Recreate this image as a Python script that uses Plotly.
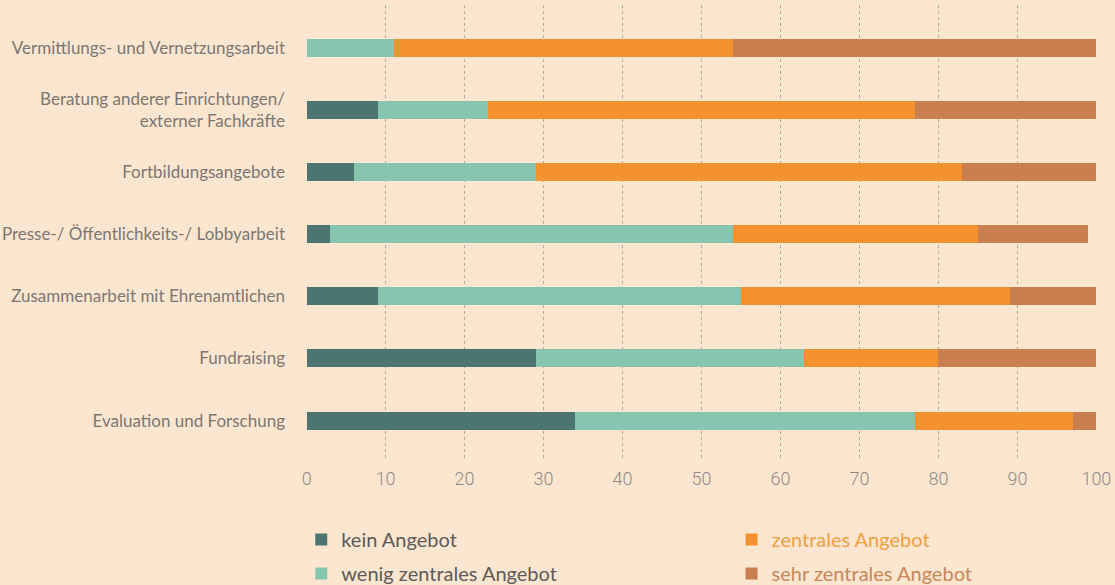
import plotly.graph_objects as go

# Angebote der Einrichtungen (Anteile in %)
categories = [
    "Vermittlungs- und Vernetzungsarbeit",
    "Beratung anderer Einrichtungen/<br>externer Fachkräfte",
    "Fortbildungsangebote",
    "Presse-/ Öffentlichkeits-/ Lobbyarbeit",
    "Zusammenarbeit mit Ehrenamtlichen",
    "Fundraising",
    "Evaluation und Forschung",
]
kein_angebot = [0, 9, 6, 3, 9, 29, 34]
wenig_zentral = [11, 14, 23, 51, 46, 34, 43]
zentral = [43, 54, 54, 31, 34, 17, 20]
sehr_zentral = [46, 23, 17, 14, 11, 20, 3]

series_names = ["kein Angebot", "wenig zentrales Angebot", "zentrales Angebot", "sehr zentrales Angebot"]
x_ticks = [0, 10, 20, 30, 40, 50, 60, 70, 80, 90, 100]

bar_colors = ["#4C7572", "#86C5AF", "#F3922F", "#C97F4F"]
legend_text_colors = ["#5E5A58", "#5E5A58", "#F3A040", "#C98659"]
legend_ids = ["legend", "legend", "legend2", "legend2"]
BG = "#FDE6D0"

fig = go.Figure()
for i, (name, vals) in enumerate(zip(series_names, [kein_angebot, wenig_zentral, zentral, sehr_zentral])):
    fig.add_trace(go.Bar(
        y=categories,
        x=vals,
        orientation="h",
        name=f"<span style='color:{legend_text_colors[i]}'>{name}</span>",
        marker=dict(color=bar_colors[i], line=dict(width=0)),
        width=0.29,
        legend=legend_ids[i],
        legendgroup=f"g{i}",
        hoverinfo="x+y",
    ))

legend_common = dict(
    orientation="v",
    yanchor="top",
    y=-0.132,
    bgcolor="rgba(0,0,0,0)",
    font=dict(family="Lato", size=20, color="#5E5A58"),
    tracegroupgap=5,
    itemwidth=30,
)

fig.update_layout(
    barmode="stack",
    width=1115,
    height=585,
    paper_bgcolor=BG,
    plot_bgcolor=BG,
    margin=dict(l=306, r=18, t=5, b=125, autoexpand=False),
    showlegend=True,
    legend=dict(x=-0.006, xanchor="left", **legend_common),
    legend2=dict(x=0.538, xanchor="left", **legend_common),
    xaxis=dict(
        range=[-0.08, 100.08],
        tickvals=x_ticks,
        ticktext=[str(v) for v in x_ticks],
        showgrid=True,
        gridcolor="#B5A99E",
        griddash="3px,3px",
        gridwidth=1,
        zeroline=False,
        showline=False,
        ticks="",
        ticklabelstandoff=6,
        tickfont=dict(family="Roboto", size=18, color="#8E8A88", weight=300),
        fixedrange=True,
    ),
    yaxis=dict(
        range=[6.635, -0.69],
        showgrid=False,
        zeroline=False,
        showline=False,
        ticks="",
        ticklabelstandoff=20,
        tickfont=dict(family="Lato", size=17, color="#7C7673"),
        fixedrange=True,
    ),
)

fig.write_html("out.html")
